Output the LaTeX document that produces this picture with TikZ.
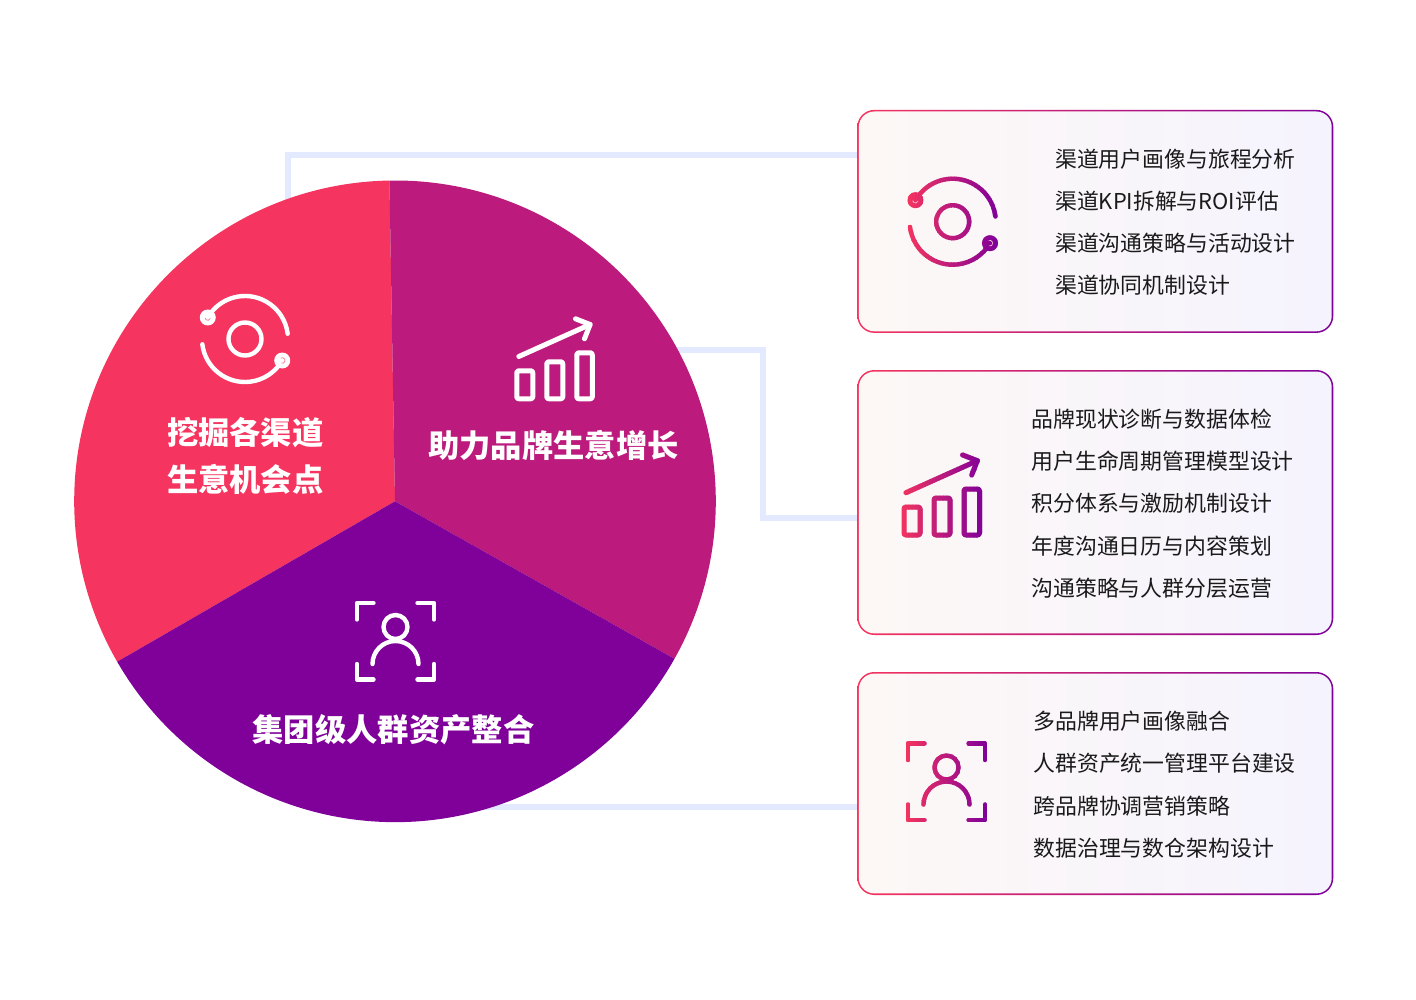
\documentclass[tikz,border=0pt]{standalone}
\usepackage{fontspec}
\setmainfont{Noto Sans CJK SC}
\definecolor{cpink}{HTML}{F5355F}
\definecolor{cmag}{HTML}{BC1A7C}
\definecolor{cpur}{HTML}{80009A}
\definecolor{cline}{HTML}{E3E9FE}
\definecolor{cleft}{HTML}{FDF8F6}
\definecolor{cright}{HTML}{F5F3FD}
\definecolor{ctext}{HTML}{1A1A1A}
\colorlet{iconcol}{white}
\colorlet{swirlcol}{white}
\tikzset{
  x=1pt,y=1pt,
  conn/.style={draw=cline,line width=5.5pt},
  iconline/.style={draw=iconcol,line width=4.4pt,line cap=round,line join=round},
  barline/.style={draw=iconcol,line width=5pt,line cap=round,line join=round},
  cardouter/.style={rectangle,rounded corners=17pt,inner sep=0pt,left color=cpink,right color=cpur,draw=none},
  cardinner/.style={rectangle,rounded corners=15.4pt,inner sep=0pt,left color=cleft,right color=cright,draw=none},
  cardtext/.style={anchor=west,inner sep=0pt,text=ctext,font=\fontsize{21.85}{26}\selectfont},
  pietitle/.style={inner sep=0pt,text=white,font=\fontsize{31.3}{36}\selectfont\bfseries},
}
% icons, drawn round a local origin
\newcommand{\orbiticon}{%
  \draw[iconline] (150:43) arc[start angle=150,end angle=7,radius=43];
  \draw[iconline] (187:43) arc[start angle=187,end angle=330,radius=43];
  \draw[iconline] (0,0) circle[radius=16.5];
  \fill[iconcol] (150:43) circle[radius=8];
  \fill[iconcol] (330:43) circle[radius=8];
  \draw[draw=swirlcol,line width=0.7pt] ($(150:43)+(190:2.8)$) arc[start angle=190,end angle=340,radius=2.8];
  \draw[draw=swirlcol,line width=0.7pt] ($(330:43)+(120:2.8)$) arc[start angle=120,end angle=-110,radius=2.8];
}
\newcommand{\barsicon}{%
  \draw[barline,rounded corners=2pt] (-38.5,-16.5) rectangle (-22.5,11.5);
  \draw[barline,rounded corners=2pt] (-8.5,-16.5) rectangle (7.5,20.5);
  \draw[barline,rounded corners=2pt] (21.5,-16.5) rectangle (37,29.5);
  \draw[barline] (-36.5,25.8) -- (34.8,57.8);
  \draw[barline] (20.2,63.5) -- (34.8,57.8) -- (29.2,43.5);
}
\newcommand{\personicon}{%
  \draw[iconline] (16.5,40) -- (0,40) -- (0,23.5);
  \draw[iconline] (60.5,40) -- (77,40) -- (77,23.5);
  \draw[iconline] (0,-21) -- (0,-36.5) -- (16.5,-36.5);
  \draw[iconline] (77,-21) -- (77,-36.5) -- (60.5,-36.5);
  \draw[iconline] (38.5,16) circle[radius=12];
  \draw[iconline] (15.5,-21) arc[start angle=180,end angle=0,radius=23];
}
% vertical slices with a running colour: a stroke with a left-right gradient
\newcommand{\gradicon}[5]{%
  \foreach \i in {0,...,59}{%
    \pgfmathsetmacro{\xa}{#1+(#2-#1)*\i/60}%
    \pgfmathsetmacro{\xb}{#1+(#2-#1)*(\i+1.4)/60}%
    \pgfmathsetmacro{\pct}{\i/59*100}%
    \colorlet{iconcol}{cpur!\pct!cpink}%
    \begin{scope}
      \clip (\xa,#3) rectangle (\xb,#4);
      #5
    \end{scope}
  }%
}
\usetikzlibrary{calc}
\begin{document}
\begin{tikzpicture}
\useasboundingbox (0,0) rectangle (1416,-1000);
\fill[white] (0,0) rectangle (1416,-1000);
% coordinates
\coordinate (pc) at (395,-501.3);
\coordinate (a1) at (288,-210);
\coordinate (a1e) at (860,-155);
\coordinate (a2) at (670,-350);
\coordinate (a2m) at (763,-350);
\coordinate (a2e) at (860,-518);
\coordinate (a3) at (480,-807);
\coordinate (a3e) at (860,-807);
% connectors
\draw[conn] (a1) |- (a1e);
\draw[conn] (a2) -- (a2m) |- (a2e);
\draw[conn] (a3) -- (a3e);
% pie
\fill[cpink] (pc) -- ++(91:320.8) arc[start angle=91,end angle=210,radius=320.8] -- cycle;
\fill[cmag] (pc) -- ++(91:320.8) arc[start angle=91,end angle=-29.4,radius=320.8] -- cycle;
\fill[cpur] (pc) -- ++(210:320.8) arc[start angle=210,end angle=330.6,radius=320.8] -- cycle;
% pie icons
\begin{scope}[shift={(245,-339)}]
  \colorlet{iconcol}{white}\colorlet{swirlcol}{cpink!70!white}
  \orbiticon
\end{scope}
\begin{scope}[shift={(555.3,-382.3)}]
  \barsicon
\end{scope}
\begin{scope}[shift={(357,-643)}]
  \personicon
\end{scope}
% pie titles
\node[pietitle] (t1a) at (245.3,-432.5) {挖掘各渠道};
\node[pietitle] (t1b) at (245.3,-479.5) {生意机会点};
\node[pietitle] (t2) at (553.5,-445) {助力品牌生意增长};
\node[pietitle] (t3) at (393.5,-730) {集团级人群资产整合};
% cards
\node[cardouter,minimum width=476pt,minimum height=223pt] (card1) at (1095.3,-221.4) {};
\node[cardinner,minimum width=472.8pt,minimum height=219.8pt] (card1i) at (card1.center) {};
\node[cardouter,minimum width=476pt,minimum height=265pt] (card2) at (1095.3,-502.5) {};
\node[cardinner,minimum width=472.8pt,minimum height=261.8pt] (card2i) at (card2.center) {};
\node[cardouter,minimum width=476pt,minimum height=223pt] (card3) at (1095.3,-783.5) {};
\node[cardinner,minimum width=472.8pt,minimum height=219.8pt] (card3i) at (card3.center) {};
% card icons
\begin{scope}[shift={(952.7,-221.7)}]
  \colorlet{swirlcol}{white!75!cpink}
  \gradicon{-46}{46}{-52}{52}{\orbiticon}
\end{scope}
\begin{scope}[shift={(942.5,-518.5)}]
  \gradicon{-43}{42}{-22}{70}{\barsicon}
\end{scope}
\begin{scope}[shift={(908,-783.5)}]
  \gradicon{-3}{80}{-42}{44}{\personicon}
\end{scope}
% card texts
\node[cardtext] (l11) at (1055,-159) {渠道用户画像与旅程分析};
\node[cardtext] (l12) at (1055,-201) {渠道KPI拆解与ROI评估};
\node[cardtext] (l13) at (1055,-243.3) {渠道沟通策略与活动设计};
\node[cardtext] (l14) at (1055,-285.5) {渠道协同机制设计};
\node[cardtext] (l21) at (1031.3,-419) {品牌现状诊断与数据体检};
\node[cardtext] (l22) at (1031.3,-461.3) {用户生命周期管理模型设计};
\node[cardtext] (l23) at (1031.3,-503.7) {积分体系与激励机制设计};
\node[cardtext] (l24) at (1031.3,-546) {年度沟通日历与内容策划};
\node[cardtext] (l25) at (1031.3,-588) {沟通策略与人群分层运营};
\node[cardtext] (l31) at (1033.3,-721) {多品牌用户画像融合};
\node[cardtext] (l32) at (1033.3,-763.3) {人群资产统一管理平台建设};
\node[cardtext] (l33) at (1033.3,-805.7) {跨品牌协调营销策略};
\node[cardtext] (l34) at (1033.3,-848) {数据治理与数仓架构设计};
\end{tikzpicture}
\end{document}
